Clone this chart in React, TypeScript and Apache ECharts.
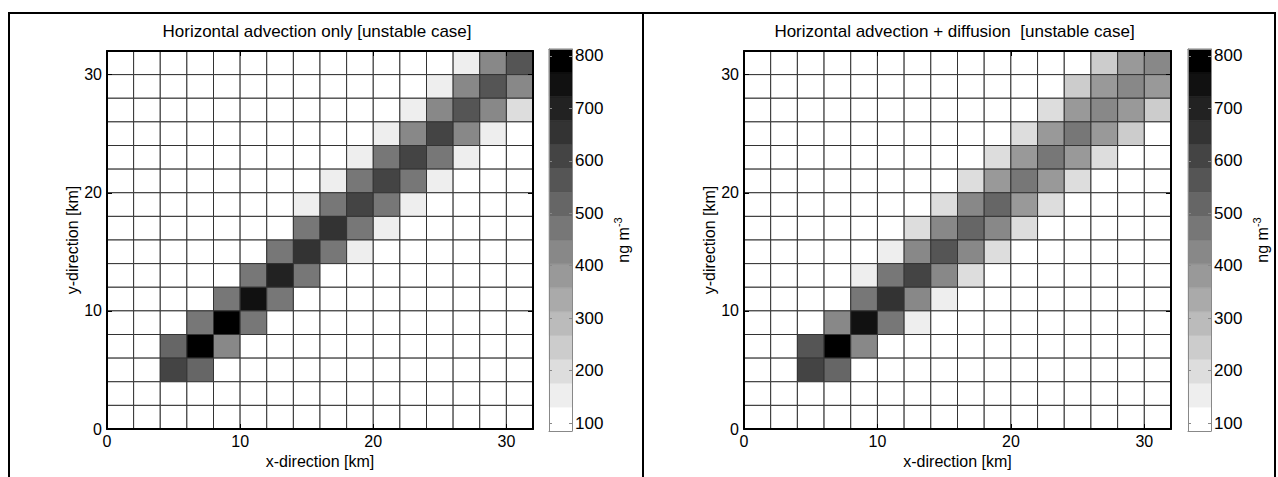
import React, { useEffect, useRef } from "react";
import * as echarts from "echarts";

const FONT = "'Liberation Sans', Arial, Helvetica, sans-serif";

const titles = [
  "Horizontal advection only [unstable case]",
  "Horizontal advection + diffusion  [unstable case]",
];
const xAxisName = "x-direction [km]";
const yAxisName = "y-direction [km]";

// left edges (km) of the 16 grid columns
const cellX = [0, 2, 4, 6, 8, 10, 12, 14, 16, 18, 20, 22, 24, 26, 28, 30];
// bottom edges (km) of the 16 grid rows, listed from top row to bottom row
const cellY = [30, 28, 26, 24, 22, 20, 18, 16, 14, 12, 10, 8, 6, 4, 2, 0];
const axisTicks = [0, 10, 20, 30];
const cbarTicks = [100, 200, 300, 400, 500, 600, 700, 800];
const cbarEdges = [85, 130.5, 176, 221.5, 267, 312.5, 358, 403.5, 449, 494.5, 540, 585.5, 631, 676.5, 722, 767.5, 813];
const cbarGreys = [
  "#ffffff", "#eeeeee", "#dddddd", "#cccccc", "#bbbbbb", "#aaaaaa", "#999999", "#888888",
  "#777777", "#666666", "#555555", "#444444", "#333333", "#222222", "#111111", "#000000",
];

// concentration (ng m-3), rows from top (y = 30-32 km) to bottom (y = 0-2 km)
const advectionOnly = [
  [100, 100, 100, 100, 100, 100, 100, 100, 100, 100, 100, 100, 100, 150, 425, 560],
  [100, 100, 100, 100, 100, 100, 100, 100, 100, 100, 100, 100, 150, 425, 560, 425],
  [100, 100, 100, 100, 100, 100, 100, 100, 100, 100, 100, 150, 425, 560, 425, 195],
  [100, 100, 100, 100, 100, 100, 100, 100, 100, 100, 150, 425, 605, 425, 150, 100],
  [100, 100, 100, 100, 100, 100, 100, 100, 100, 150, 470, 605, 470, 150, 100, 100],
  [100, 100, 100, 100, 100, 100, 100, 100, 150, 470, 605, 470, 150, 100, 100, 100],
  [100, 100, 100, 100, 100, 100, 100, 150, 470, 605, 470, 150, 100, 100, 100, 100],
  [100, 100, 100, 100, 100, 100, 100, 470, 650, 470, 150, 100, 100, 100, 100, 100],
  [100, 100, 100, 100, 100, 100, 470, 650, 470, 150, 100, 100, 100, 100, 100, 100],
  [100, 100, 100, 100, 100, 470, 700, 470, 100, 100, 100, 100, 100, 100, 100, 100],
  [100, 100, 100, 100, 470, 745, 470, 100, 100, 100, 100, 100, 100, 100, 100, 100],
  [100, 100, 100, 470, 790, 470, 100, 100, 100, 100, 100, 100, 100, 100, 100, 100],
  [100, 100, 515, 790, 425, 100, 100, 100, 100, 100, 100, 100, 100, 100, 100, 100],
  [100, 100, 605, 515, 100, 100, 100, 100, 100, 100, 100, 100, 100, 100, 100, 100],
  [100, 100, 100, 100, 100, 100, 100, 100, 100, 100, 100, 100, 100, 100, 100, 100],
  [100, 100, 100, 100, 100, 100, 100, 100, 100, 100, 100, 100, 100, 100, 100, 100],
];

const advectionDiffusion = [
  [100, 100, 100, 100, 100, 100, 100, 100, 100, 100, 100, 100, 100, 240, 380, 425],
  [100, 100, 100, 100, 100, 100, 100, 100, 100, 100, 100, 100, 240, 380, 425, 380],
  [100, 100, 100, 100, 100, 100, 100, 100, 100, 100, 100, 195, 380, 425, 380, 240],
  [100, 100, 100, 100, 100, 100, 100, 100, 100, 100, 195, 380, 470, 380, 240, 100],
  [100, 100, 100, 100, 100, 100, 100, 100, 100, 195, 380, 470, 380, 195, 100, 100],
  [100, 100, 100, 100, 100, 100, 100, 100, 195, 380, 470, 380, 195, 100, 100, 100],
  [100, 100, 100, 100, 100, 100, 100, 195, 425, 515, 380, 195, 100, 100, 100, 100],
  [100, 100, 100, 100, 100, 100, 195, 425, 515, 425, 195, 100, 100, 100, 100, 100],
  [100, 100, 100, 100, 100, 150, 425, 560, 425, 195, 100, 100, 100, 100, 100, 100],
  [100, 100, 100, 100, 150, 470, 605, 425, 195, 100, 100, 100, 100, 100, 100, 100],
  [100, 100, 100, 100, 470, 650, 425, 150, 100, 100, 100, 100, 100, 100, 100, 100],
  [100, 100, 100, 425, 745, 470, 150, 100, 100, 100, 100, 100, 100, 100, 100, 100],
  [100, 100, 560, 790, 425, 100, 100, 100, 100, 100, 100, 100, 100, 100, 100, 100],
  [100, 100, 605, 515, 100, 100, 100, 100, 100, 100, 100, 100, 100, 100, 100, 100],
  [100, 100, 100, 100, 100, 100, 100, 100, 100, 100, 100, 100, 100, 100, 100, 100],
  [100, 100, 100, 100, 100, 100, 100, 100, 100, 100, 100, 100, 100, 100, 100, 100],
];

const panelsData = [advectionOnly, advectionDiffusion];

function greyFor(v: number): string {
  for (let k = 0; k < cbarGreys.length; k++) {
    if (v < cbarEdges[k + 1]) return cbarGreys[k];
  }
  return cbarGreys[cbarGreys.length - 1];
}

function toCells(m: number[][]) {
  const out: number[][] = [];
  m.forEach((row, r) => row.forEach((v, c) => out.push([cellX[c], cellY[r], v])));
  return out;
}

const cbarSegments = cbarGreys.map((_, k) => [cbarEdges[k], cbarEdges[k + 1], k]);

// layout (pixels)
const layout = [
  { plotLeft: 107, plotWidth: 426, cbLeft: 549 },
  { plotLeft: 744, plotWidth: 427, cbLeft: 1188 },
];
const plotTop = 51;
const plotHeight = 378;
const cbTop = 49;
const cbHeight = 382;
const cbWidth = 23;

export default function App() {
  const ref = useRef<HTMLDivElement>(null);

  useEffect(() => {
    if (!ref.current) return;
    const chart = echarts.init(ref.current, null, { renderer: "svg" });
    const cellStep = cellX[1] - cellX[0];

    const grids: any[] = [];
    const xAxes: any[] = [];
    const yAxes: any[] = [];
    const series: any[] = [];
    const graphics: any[] = [];

    const labelStyle = { fontFamily: FONT, fontSize: 16, color: "#000" };

    layout.forEach((L, p) => {
      grids.push({ left: L.plotLeft, top: plotTop, width: L.plotWidth, height: plotHeight });
      grids.push({ left: L.cbLeft, top: cbTop, width: cbWidth, height: cbHeight });
      const gMain = 2 * p;
      const gCb = 2 * p + 1;

      const mainAxisBase = {
        type: "value",
        min: 0,
        max: 32,
        z: 10,
        splitLine: { show: false },
        axisLine: { show: true, onZero: false, lineStyle: { color: "#000", width: 2 } },
        axisTick: { show: true, inside: true, length: 5, customValues: axisTicks, lineStyle: { color: "#000", width: 1 } },
      };
      xAxes.push({
        ...mainAxisBase,
        gridIndex: gMain,
        position: "bottom",
        axisLabel: { ...labelStyle, margin: 4, customValues: axisTicks },
        name: xAxisName,
        nameLocation: "middle",
        nameGap: 19,
        nameTextStyle: labelStyle,
      });
      xAxes.push({ ...mainAxisBase, gridIndex: gMain, position: "top", axisLabel: { show: false } });
      yAxes.push({
        ...mainAxisBase,
        gridIndex: gMain,
        position: "left",
        axisLabel: { ...labelStyle, margin: 5, customValues: axisTicks },
        name: yAxisName,
        nameLocation: "middle",
        nameRotate: 90,
        nameGap: 27,
        nameTextStyle: labelStyle,
      });
      yAxes.push({ ...mainAxisBase, gridIndex: gMain, position: "right", axisLabel: { show: false } });

      const cbXBase = {
        type: "value",
        min: 0,
        max: 1,
        z: 10,
        gridIndex: gCb,
        splitLine: { show: false },
        axisTick: { show: false },
        axisLabel: { show: false },
        axisLine: { show: true, onZero: false, lineStyle: { color: "#888", width: 1 } },
      };
      xAxes.push({ ...cbXBase, position: "bottom" });
      xAxes.push({ ...cbXBase, position: "top" });
      const cbYBase = {
        type: "value",
        min: cbarEdges[0],
        max: cbarEdges[cbarEdges.length - 1],
        z: 10,
        gridIndex: gCb,
        splitLine: { show: false },
        axisLine: { show: true, onZero: false, lineStyle: { color: "#888", width: 1 } },
        axisTick: { show: true, inside: true, length: 3, customValues: cbarTicks, lineStyle: { color: "#888", width: 1 } },
      };
      yAxes.push({ ...cbYBase, position: "left", axisLabel: { show: false } });
      yAxes.push({
        ...cbYBase,
        position: "right",
        axisLabel: { ...labelStyle, fontSize: 17, margin: 3, customValues: cbarTicks },
      });

      series.push({
        type: "custom",
        xAxisIndex: 4 * p,
        yAxisIndex: 4 * p,
        z: 2,
        data: toCells(panelsData[p]),
        renderItem: (_params: any, api: any) => {
          const x = api.value(0);
          const y = api.value(1);
          const v = api.value(2);
          const p0 = api.coord([x, y + cellStep]);
          const p1 = api.coord([x + cellStep, y]);
          return {
            type: "rect",
            shape: { x: p0[0], y: p0[1], width: p1[0] - p0[0], height: p1[1] - p0[1] },
            style: { fill: greyFor(v), stroke: "#333", lineWidth: 1 },
          };
        },
      });
      series.push({
        type: "custom",
        xAxisIndex: 4 * p + 2,
        yAxisIndex: 4 * p + 3,
        z: 2,
        data: cbarSegments,
        renderItem: (_params: any, api: any) => {
          const lo = api.value(0);
          const hi = api.value(1);
          const k = api.value(2);
          const p0 = api.coord([0, hi]);
          const p1 = api.coord([1, lo]);
          return {
            type: "rect",
            shape: { x: p0[0], y: p0[1], width: p1[0] - p0[0], height: p1[1] - p0[1] },
            style: { fill: cbarGreys[k], stroke: cbarGreys[k], lineWidth: 0.5 },
          };
        },
      });

      graphics.push({
        type: "text",
        x: L.plotLeft + L.plotWidth / 2 - 3,
        y: 31,
        style: { text: titles[p], fontFamily: FONT, fontSize: 17, fill: "#000", align: "center", verticalAlign: "middle" },
      });
      graphics.push({
        type: "text",
        x: L.cbLeft + cbWidth + 51,
        y: cbTop + cbHeight / 2,
        rotation: Math.PI / 2,
        style: {
          text: "{a|ng m}{b|-3}",
          align: "center",
          verticalAlign: "middle",
          fill: "#000",
          rich: {
            a: { fontFamily: FONT, fontSize: 16, lineHeight: 22, fill: "#000" },
            b: { fontFamily: FONT, fontSize: 11, lineHeight: 11, verticalAlign: "top", fill: "#000" },
          },
        },
      });
    });

    // outer frame of the figure
    const frame = { stroke: "#000", lineWidth: 2 };
    graphics.push({ type: "line", shape: { x1: 8, y1: 13, x2: 1276, y2: 13 }, style: frame });
    graphics.push({ type: "line", shape: { x1: 9, y1: 12, x2: 9, y2: 477 }, style: frame });
    graphics.push({ type: "line", shape: { x1: 643, y1: 12, x2: 643, y2: 477 }, style: frame });
    graphics.push({ type: "line", shape: { x1: 1275, y1: 12, x2: 1275, y2: 477 }, style: frame });

    chart.setOption({
      animation: false,
      backgroundColor: "#fff",
      grid: grids,
      xAxis: xAxes,
      yAxis: yAxes,
      series,
      graphic: graphics,
    });
    return () => chart.dispose();
  }, []);

  return (
    <div
      ref={ref}
      style={{ position: "absolute", left: 0, top: 0, width: 1278, height: 477 }}
    />
  );
}
